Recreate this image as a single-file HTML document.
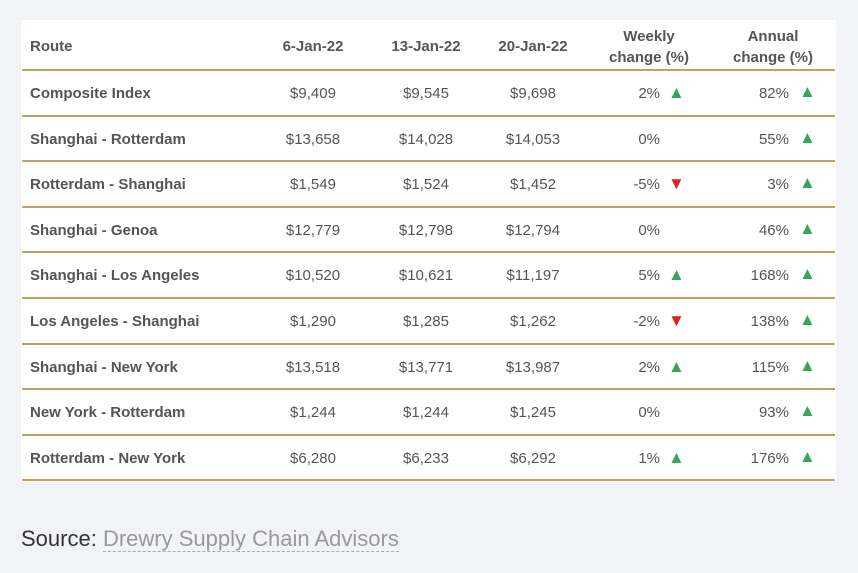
<!DOCTYPE html>
<html><head><meta charset="utf-8"><style>
body{margin:0;width:858px;height:573px;background:#f2f3f7;font-family:"Liberation Sans",Arial,sans-serif;position:relative;overflow:hidden}
#panel{position:absolute;left:21px;top:20px;width:815px;height:462px;background:#fff}
.row{position:absolute;left:1px;width:813px;border-bottom:2px solid #c4a160;color:#555;font-size:15px}
.c{position:absolute;white-space:nowrap}
.route{left:8px;font-weight:bold}
.n{width:120px;text-align:center}
.pct{text-align:right;width:80px}
.up{color:#3aa55a;font-size:17px}
.dn{color:#e0201b;font-size:17px}
.tri{position:absolute;width:16px;text-align:center}
.h{font-weight:bold}
#src{position:absolute;left:21px;top:526px;font-size:22px;color:#333}
#src span{color:#999;border-bottom:1.5px dashed #aaa}
</style></head><body>
<div id="panel"></div>
<div id="src">Source: <span>Drewry Supply Chain Advisors</span></div>
<script>
const routes=["Composite Index","Shanghai - Rotterdam","Rotterdam - Shanghai","Shanghai - Genoa","Shanghai - Los Angeles","Los Angeles - Shanghai","Shanghai - New York","New York - Rotterdam","Rotterdam - New York"];
const jan6=["$9,409","$13,658","$1,549","$12,779","$10,520","$1,290","$13,518","$1,244","$6,280"];
const jan13=["$9,545","$14,028","$1,524","$12,798","$10,621","$1,285","$13,771","$1,244","$6,233"];
const jan20=["$9,698","$14,053","$1,452","$12,794","$11,197","$1,262","$13,987","$1,245","$6,292"];
const weekly=[2,0,-5,0,5,-2,2,0,1];
const annual=[82,55,3,46,168,138,115,93,176];
const p=document.getElementById('panel');
function cell(row,cls,txt,left,top){const d=document.createElement('div');d.className='c '+cls;d.textContent=txt;d.style.left=left+'px';d.style.top=top+'px';row.appendChild(d);return d;}
const h=document.createElement('div');h.className='row';h.style.top='0px';h.style.height='49px';


p.appendChild(h);
let e=cell(h,'route','Route',8,18);


[["6-Jan-22",231],["13-Jan-22",344],["20-Jan-22",451]].forEach(([t,x])=>{let d=cell(h,'n h',t,x,18);

});
e=cell(h,'n h','Weekly\nchange (%)',567,6);e.style.whiteSpace='pre';e.style.lineHeight='21px';


e=cell(h,'n h','Annual\nchange (%)',691,6);e.style.whiteSpace='pre';e.style.lineHeight='21px';


const rh=45.6;
routes.forEach((r,i)=>{
 const top=51+i*rh;
 const row=document.createElement('div');row.className='row';row.style.top=top+'px';row.style.height=(rh-2)+'px';
 
 
 p.appendChild(row);
 const ty=14;
 cell(row,'route',r,8,ty);
 cell(row,'n',jan6[i],231,ty);
 cell(row,'n',jan13[i],344,ty);
 cell(row,'n',jan20[i],451,ty);
 cell(row,'pct',weekly[i]+'%',558,ty);
 if(weekly[i]!==0){const t=cell(row,'tri '+(weekly[i]>0?'up':'dn'),weekly[i]>0?'▲':'▼',646,ty-2);
 
 }
 cell(row,'pct',annual[i]+'%',687,ty);
 const t2=cell(row,'tri '+(annual[i]>0?'up':'dn'),annual[i]>0?'▲':'▼',777,ty-3);
 
 
});
</script>
</body></html>
